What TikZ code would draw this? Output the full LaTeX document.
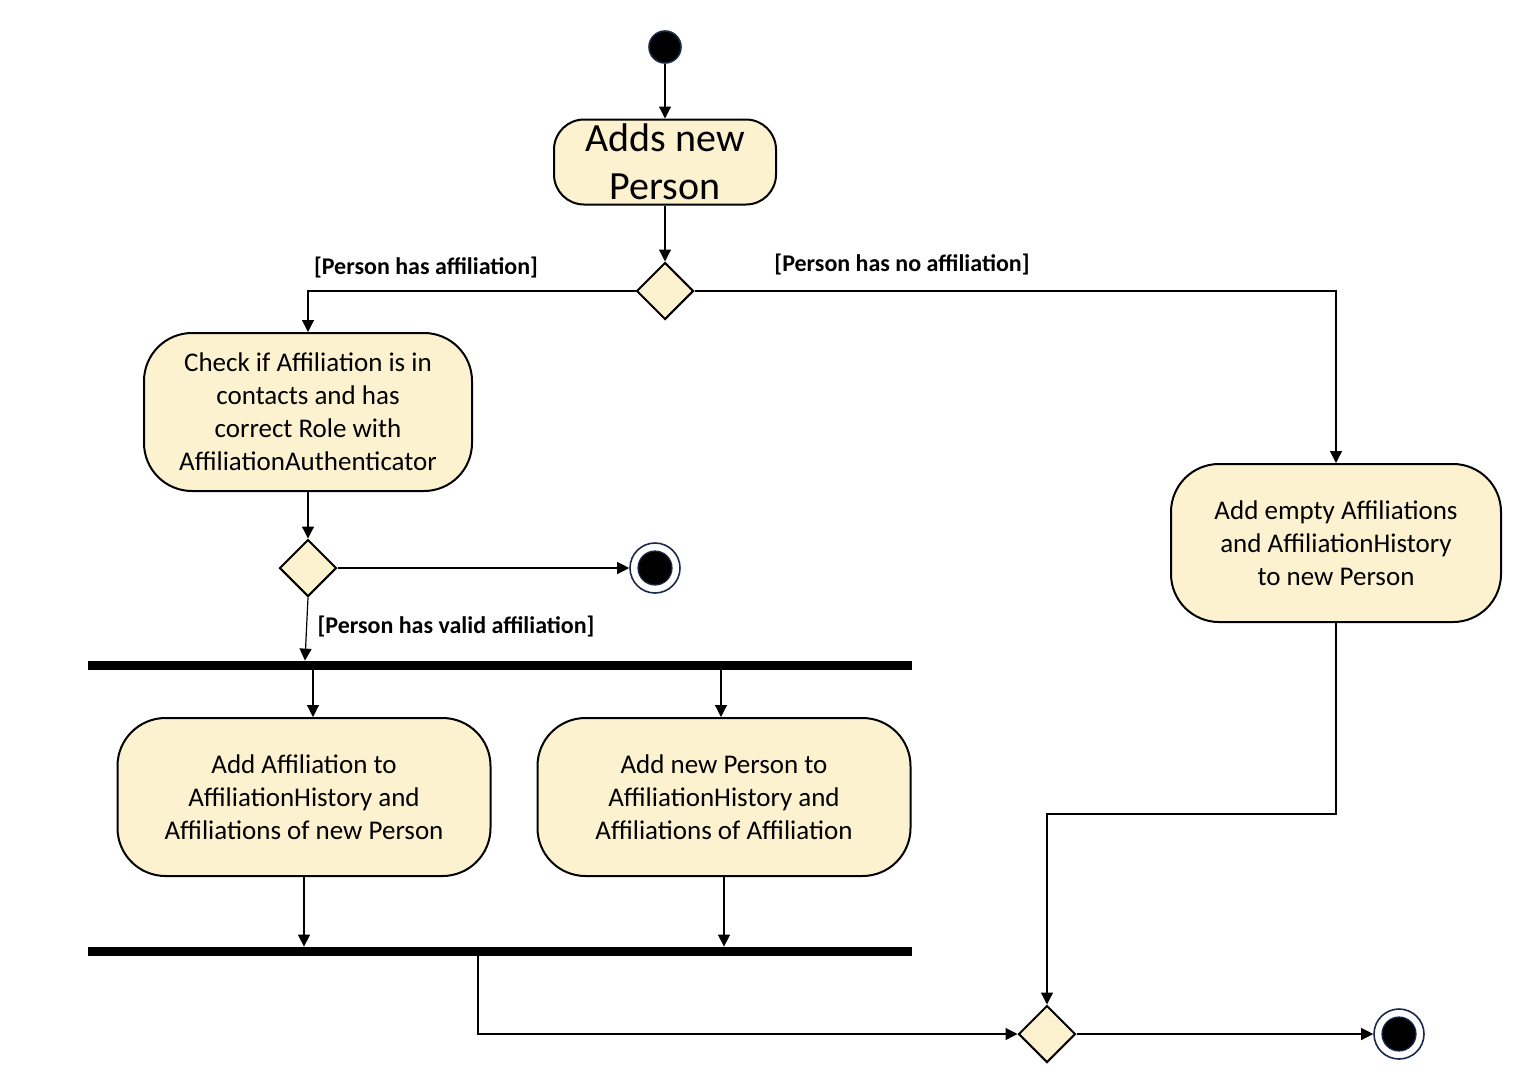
\documentclass[tikz,border=0pt]{standalone}
\usepackage{fontspec}
\setmainfont{Carlito}
\usetikzlibrary{shapes.geometric,arrows.meta}
\definecolor{actfill}{HTML}{FDF2CF}
\definecolor{navy}{HTML}{1B2A4A}
\tikzset{
  act/.style={draw=black, line width=1pt, fill=actfill, rounded corners=24pt, align=center,
    font=\fontsize{13.5}{16.5}\selectfont, inner sep=2pt},
  dec/.style={draw=black, line width=1pt, fill=actfill, diamond, aspect=1, inner sep=0pt,
    minimum width=28.5pt, minimum height=28.5pt},
  bar/.style={fill=black, draw=none, rectangle, inner sep=0pt, minimum width=412pt, minimum height=4.5pt},
  startnode/.style={circle, fill=black, draw=navy, line width=0.8pt, minimum size=16pt, inner sep=0pt},
  finalnode/.style={circle, fill=white, draw=navy, line width=0.8pt, minimum size=25pt, inner sep=0pt,
    path picture={\fill[black] (path picture bounding box.center) circle (8.5pt);
                  \draw[navy, line width=0.6pt] (path picture bounding box.center) circle (8.5pt);}},
  arr/.style={draw=black, line width=0.6pt, -{Triangle[length=6pt,width=6pt]}},
  guard/.style={font=\bfseries\fontsize{12}{14}\selectfont, inner sep=0pt}
}
\begin{document}
\begin{tikzpicture}[x=0.5pt,y=-0.5pt]
\useasboundingbox (0,0) rectangle (1530,1088);
% nodes
\node[startnode] (start) at (665,47) {};
\node[act, minimum width=111pt, minimum height=42.5pt, rounded corners=15pt,
      font=\fontsize{20}{24}\selectfont, inner sep=0pt] (add) at (665,162) {Adds new\\Person};
\node[dec] (d1) at (665,291) {};
\node[act, minimum width=164pt, minimum height=79pt] (check) at (308,412)
  {Check if Affiliation is in\\contacts and has\\correct Role with\\AffiliationAuthenticator};
\node[dec] (d2) at (308,568) {};
\node[finalnode] (f1) at (655,568) {};
\node[bar] (fork) at (500,665.5) {};
\node[act, minimum width=186.5pt, minimum height=79pt] (A) at (304,797)
  {Add Affiliation to\\AffiliationHistory and\\Affiliations of new Person};
\node[act, minimum width=186.5pt, minimum height=79pt] (B) at (724,797)
  {Add new Person to\\AffiliationHistory and\\Affiliations of Affiliation};
\node[bar] (join) at (500,951.5) {};
\node[act, minimum width=165pt, minimum height=79pt] (R) at (1336,543)
  {Add empty Affiliations\\and AffiliationHistory\\to new Person};
\node[dec] (d3) at (1047,1034) {};
\node[finalnode] (f2) at (1399,1034) {};
% guards
\node[guard] (g1) at (426,268) {[Person has affiliation]};
\node[guard] (g2) at (902,265) {[Person has no affiliation]};
\node[guard] (g3) at (456,626) {[Person has valid affiliation]};
% coordinates on bars
\coordinate (fa) at (313,670);
\coordinate (fb) at (721,670);
\coordinate (jd) at (478,956);
% connectors
\draw[arr] (start) -- (add);
\draw[arr] (add) -- (d1);
\draw[arr] (d1.west) -| (check.north);
\draw[arr] (d1.east) -| (R.north);
\draw[arr] (check) -- (d2);
\draw[arr] (d2.east) -- (f1.west);
\draw[arr] (d2.south) -- ([xshift=-1.5pt]fork.north -| d2.south);
\draw[arr] (fa) -- (A.north -| fa);
\draw[arr] (fb) -- (B.north -| fb);
\draw[arr] (A.south) -- (A.south |- join.north);
\draw[arr] (B.south) -- (B.south |- join.north);
\draw[arr] (jd) |- (d3.west);
\draw[arr] (R.south) -- ++(0,191) -| (d3.north);
\draw[arr] (d3.east) -- (f2.west);
\end{tikzpicture}
\end{document}
